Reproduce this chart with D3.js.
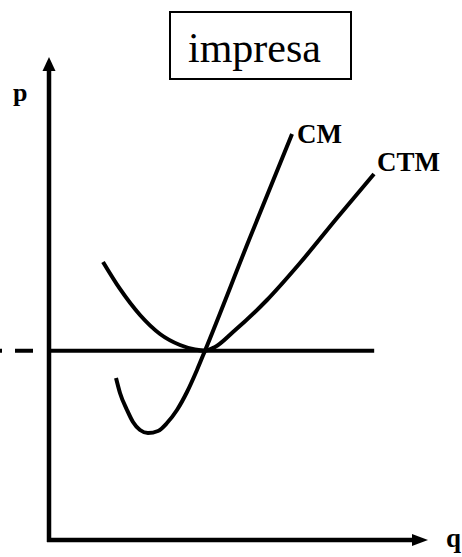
<!DOCTYPE html>
<html>
<head>
<meta charset="utf-8">
<script src="https://cdn.jsdelivr.net/npm/d3@7"></script>
<style>
html,body{margin:0;padding:0;background:#fff;}
svg{display:block;}
</style>
</head>
<body>
<script>
// Data (q, p) in arbitrary units
const titleText = "impresa";
const axisLabels = {x: "q", y: "p"};
const ctmQ = [1.425, 1.873, 2.401, 2.929, 3.456, 3.852, 4.116, 4.380, 4.855, 5.752, 6.623, 7.599, 8.575];
const ctmP = [5.756, 5.197, 4.658, 4.265, 4.037, 3.944, 3.920, 3.996, 4.306, 4.969, 5.735, 6.667, 7.578];
const cmQ  = [1.768, 1.873, 2.058, 2.216, 2.401, 2.612, 2.876, 3.113, 3.377, 3.641, 3.905, 4.116, 5.277, 6.412];
const cmP  = [3.354, 3.043, 2.692, 2.443, 2.277, 2.215, 2.257, 2.422, 2.692, 3.064, 3.520, 3.920, 6.211, 8.406];
const priceLevel = 3.92;
const priceLineEnd = 8.58;
const curveNames = ["CM", "CTM"];

const W = 462, H = 557;
const svg = d3.select("body").append("svg").attr("width", W).attr("height", H);

const x = d3.scaleLinear().domain([0, 10]).range([49, 428]);
const y = d3.scaleLinear().domain([0, 10]).range([540, 57]);

const serif = "Liberation Serif, Times New Roman, serif";

// title box
svg.append("rect").attr("x", 170).attr("y", 12).attr("width", 181).attr("height", 67)
  .attr("fill", "none").attr("stroke", "#000").attr("stroke-width", 2);
svg.append("text").attr("x", 188).attr("y", 62)
  .attr("font-family", serif).attr("font-size", 42).text(titleText);

// axes
svg.append("line").attr("x1", x(0)).attr("y1", y(0) + 2).attr("x2", x(0)).attr("y2", 68)
  .attr("stroke", "#000").attr("stroke-width", 4.5);
svg.append("line").attr("x1", x(0) - 2).attr("y1", y(0)).attr("x2", 414).attr("y2", y(0))
  .attr("stroke", "#000").attr("stroke-width", 4.5);
// arrowheads
svg.append("path").attr("d", `M${x(0)},${y(10)} L${x(0)-6.5},${y(10)+14} L${x(0)+6.5},${y(10)+14} Z`).attr("fill", "#000");
svg.append("path").attr("d", `M${x(10)},${y(0)} L${x(10)-16},${y(0)-6} L${x(10)-16},${y(0)+6} Z`).attr("fill", "#000");

// axis labels
svg.append("text").attr("x", 13).attr("y", 101).attr("font-family", serif)
  .attr("font-weight", "bold").attr("font-size", 26).text(axisLabels.y);
svg.append("text").attr("x", 446).attr("y", 547).attr("font-family", serif)
  .attr("font-weight", "bold").attr("font-size", 27).text(axisLabels.x);

// price line
svg.append("line").attr("x1", x(0)).attr("y1", y(priceLevel)).attr("x2", x(priceLineEnd)).attr("y2", y(priceLevel))
  .attr("stroke", "#000").attr("stroke-width", 4);
svg.append("line").attr("x1", x(0) - 16).attr("y1", y(priceLevel)).attr("x2", 0).attr("y2", y(priceLevel))
  .attr("stroke", "#000").attr("stroke-width", 4).attr("stroke-dasharray", "18,13");

const line = d3.line().x(d => x(d[0])).y(d => y(d[1])).curve(d3.curveMonotoneX);
const ctm = ctmQ.map((q, i) => [q, ctmP[i]]);
const cm = cmQ.map((q, i) => [q, cmP[i]]);

svg.append("path").attr("d", line(ctm)).attr("fill", "none").attr("stroke", "#000").attr("stroke-width", 4);
svg.append("path").attr("d", line(cm)).attr("fill", "none").attr("stroke", "#000").attr("stroke-width", 4);

// curve labels
svg.append("text").attr("x", 297).attr("y", 143).attr("font-family", serif)
  .attr("font-weight", "bold").attr("font-size", 27).text(curveNames[0]);
svg.append("text").attr("x", 377).attr("y", 171).attr("font-family", serif)
  .attr("font-weight", "bold").attr("font-size", 27).text(curveNames[1]);
</script>
</body>
</html>
